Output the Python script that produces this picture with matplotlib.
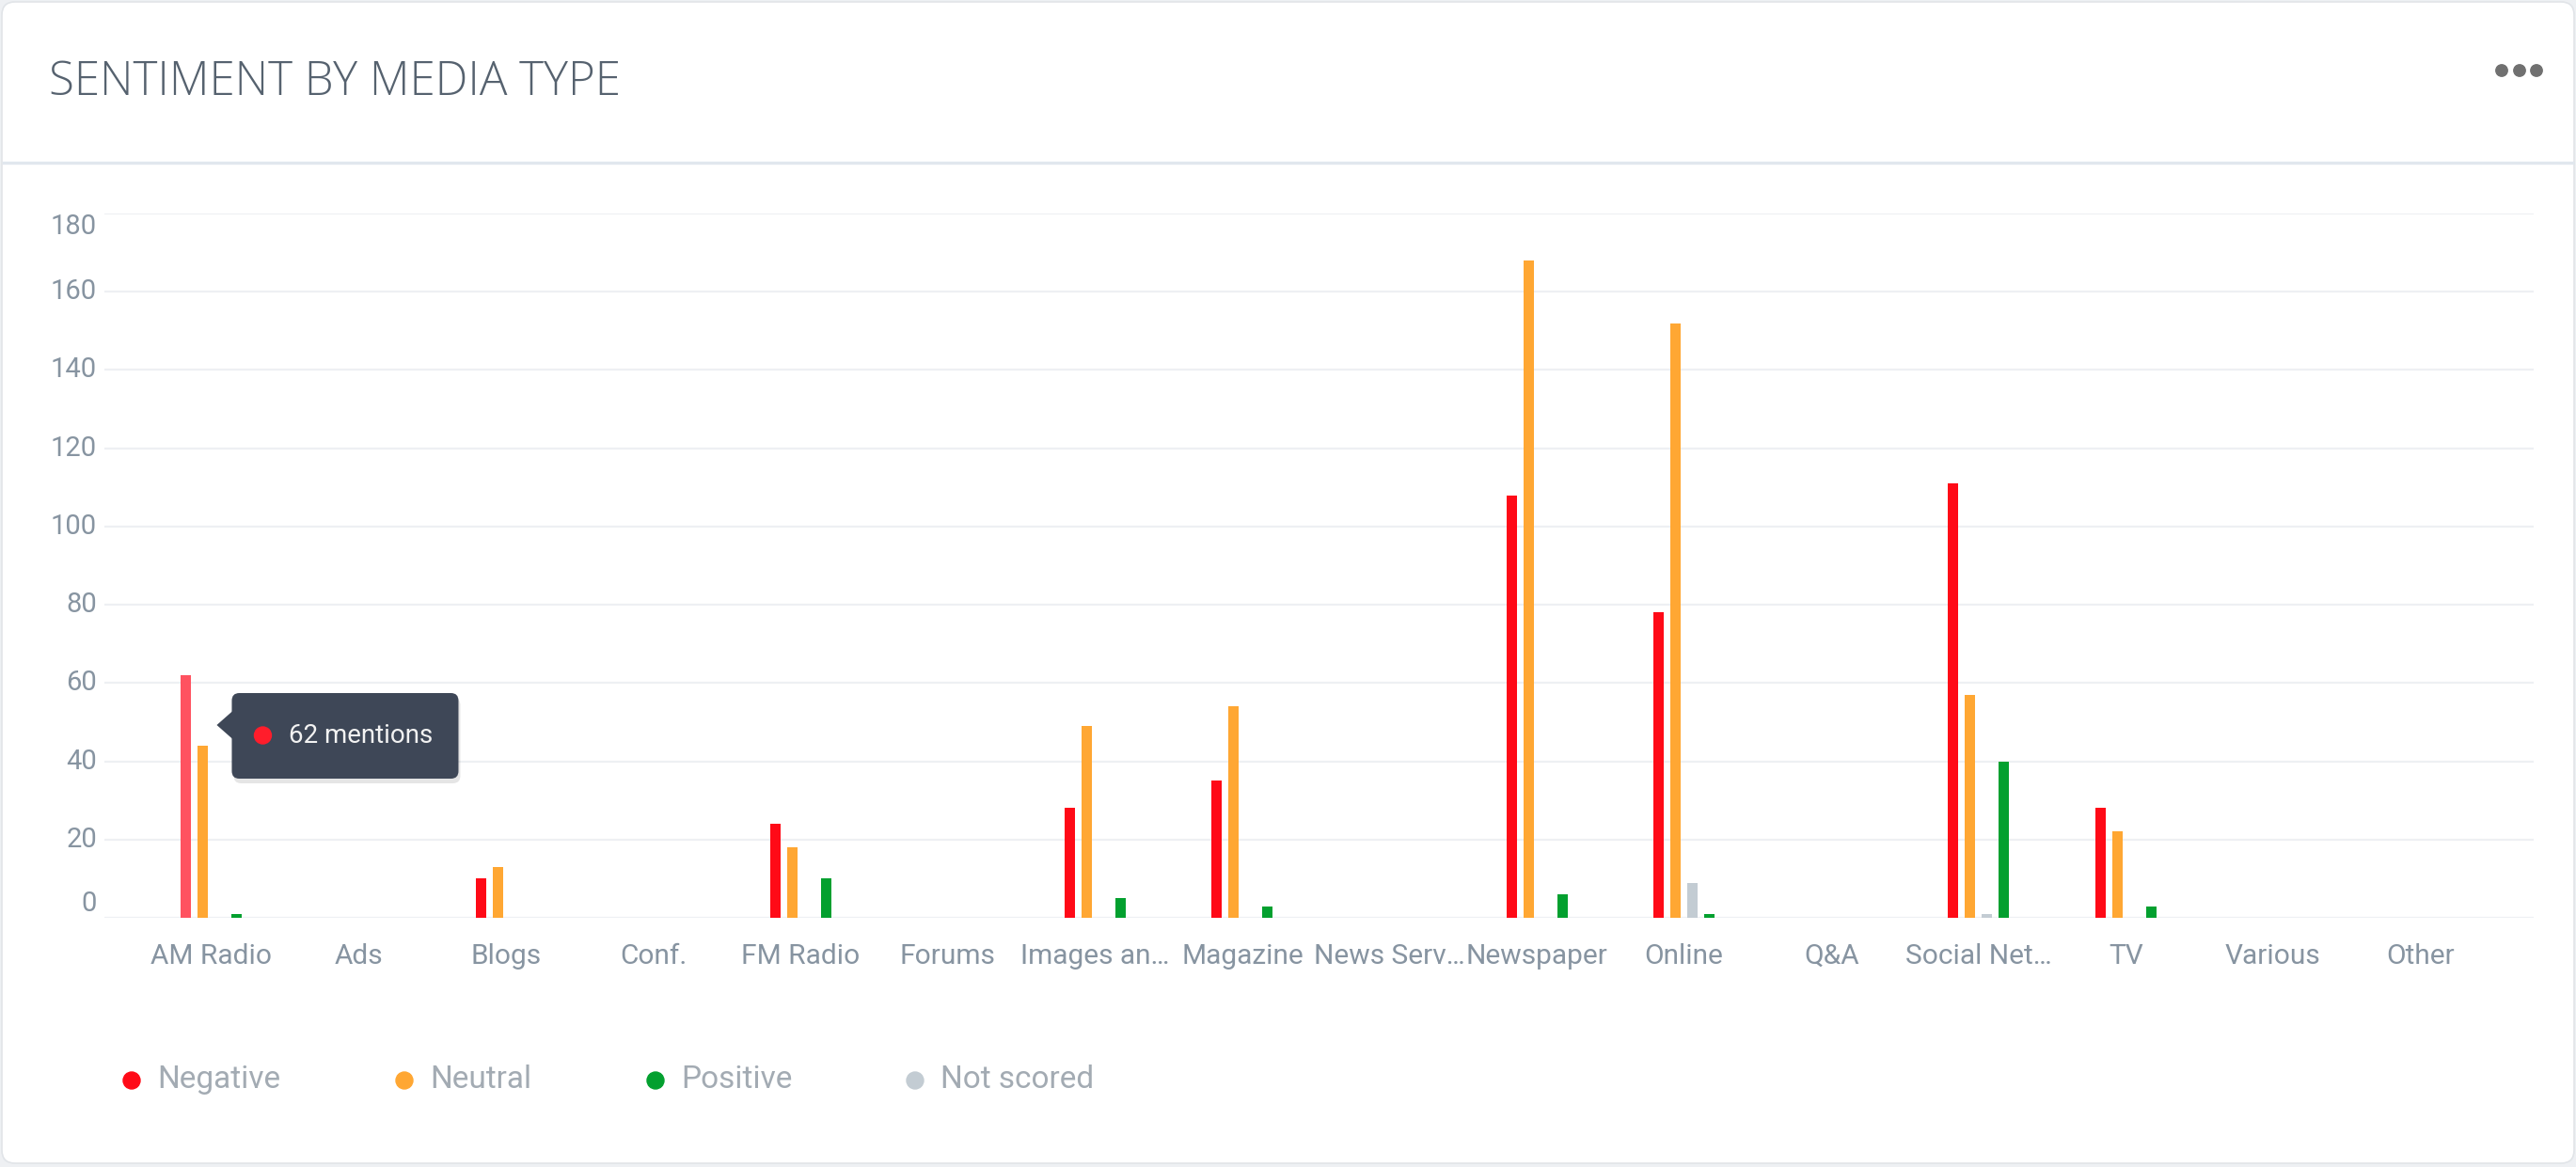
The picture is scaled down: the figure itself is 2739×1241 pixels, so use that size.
import numpy as np
import matplotlib
matplotlib.use("Agg")
import matplotlib.pyplot as plt
import matplotlib.transforms as mtransforms
from matplotlib.patches import FancyBboxPatch, Circle, Polygon

W, H = 2739, 1241
DPI = 100

categories = ["AM Radio", "Ads", "Blogs", "Conf.", "FM Radio", "Forums",
              "Images an\u2026", "Magazine", "News Serv\u2026", "Newspaper",
              "Online", "Q&A", "Social Net\u2026", "TV", "Various", "Other"]
negative   = [62, 0, 10, 0, 24, 0, 28, 35, 0, 108, 78, 0, 111, 28, 0, 0]
neutral    = [44, 0, 13, 0, 18, 0, 49, 54, 0, 168, 152, 0, 57, 22, 0, 0]
not_scored = [0, 0, 0, 0, 0, 0, 0, 0, 0, 0, 9, 0, 1, 0, 0, 0]
positive   = [1, 0, 0, 0, 10, 0, 5, 3, 0, 6, 1, 0, 40, 3, 0, 0]
y_ticks = [0, 20, 40, 60, 80, 100, 120, 140, 160, 180]

legend_names = ["Negative", "Neutral", "Positive", "Not scored"]
tooltip_text = "62 mentions"

RED, ORANGE, GREEN, GREY = "#ff0a17", "#ffa733", "#03a02f", "#c3ccd3"
RED_HOVER = "#ff5260"
LABEL_C = "#8794a1"

fig = plt.figure(figsize=(W / DPI, H / DPI), dpi=DPI)
fig.patch.set_facecolor("#eef0f3")

# background layer in pixel coords (y down)
bg = fig.add_axes([0, 0, 1, 1], zorder=0)
bg.set_xlim(0, W); bg.set_ylim(H, 0); bg.axis("off")
bg.add_patch(FancyBboxPatch((2, 2), W - 4, H - 6, boxstyle="round,pad=0,rounding_size=14",
                            fc="white", ec="#e1e4e8", lw=1.2))
bg.plot([2, W - 2], [173, 173], color="#e1e7ee", lw=2.4, solid_capstyle="butt")
bg.text(52, 88, "SENTIMENT BY MEDIA TYPE", fontsize=35.5, color="#56626f",
        family=["Open Sans", "DejaVu Sans"], weight="light", ha="left", va="center")
for cx in (2660, 2679, 2697):
    bg.add_patch(Circle((cx, 75), 6.2, color="#707070"))

# legend
leg_dots = [140, 430, 697, 973]
leg_cols = [RED, ORANGE, GREEN, GREY]
for x0, name, c in zip(leg_dots, legend_names, leg_cols):
    bg.add_patch(Circle((x0, 1149), 9, color=c))
    bg.text(x0 + 27, 1148, name, fontsize=24, color="#a3abb3", family="Roboto",
            ha="left", va="center")

# main chart
ax = fig.add_axes([111 / W, 1 - 976 / H, (2694 - 111) / W, (976 - 227) / H], zorder=2)
ax.patch.set_alpha(0)
x = np.arange(len(categories))
ax.set_xlim(-0.728, 15.77)
ax.set_ylim(0, 180)
for s in ax.spines.values():
    s.set_visible(False)
ax.set_yticks(y_ticks)
ax.set_xticks([])
ax.yaxis.grid(True, color="#eef0f3", lw=1.6)
ax.set_axisbelow(True)
ax.tick_params(length=0, labelleft=False)

bw = 0.0703
step = 0.115
neg_colors = [RED_HOVER] + [RED] * (len(categories) - 1)
series = [(negative, neg_colors), (neutral, ORANGE), (not_scored, GREY), (positive, GREEN)]
for k, (vals, col) in enumerate(series):
    ax.bar(x + (k - 1.5) * step, vals, width=bw, color=col, linewidth=0)

# y labels (end labels kept inside the plot, like the original)
ylab_tr = mtransforms.blended_transform_factory(ax.transAxes, ax.transData)
for v in y_ticks:
    dy = -14 if v == 180 else (15 if v == 0 else 0)
    tr = ylab_tr + mtransforms.ScaledTranslation(-8 / DPI, dy / DPI, fig.dpi_scale_trans)
    ax.text(0, v, str(v), transform=tr, ha="right", va="center", fontsize=21,
            color=LABEL_C, family="Roboto")

xlab_tr = mtransforms.blended_transform_factory(ax.transData, ax.transAxes)
for i, name in enumerate(categories):
    tr = xlab_tr + mtransforms.ScaledTranslation(0, -41 / DPI, fig.dpi_scale_trans)
    ax.text(i, 0, name, transform=tr, ha="center", va="center", fontsize=21.5,
            color=LABEL_C, family="Roboto")

# tooltip anchored on the hovered bar
ov = fig.add_axes([0, 0, 1, 1], zorder=5)
ov.set_xlim(0, W); ov.set_ylim(H, 0); ov.axis("off")
bx, by = ax.transData.transform((0 - 1.5 * step + bw / 2, negative[0]))
by = H - by
tip_x, tip_y = bx + 27, by + 53
box_x0, box_y0, box_w, box_h = tip_x + 16, tip_y - 34, 241, 91
ov.add_patch(FancyBboxPatch((box_x0 + 2, box_y0 + 5), box_w, box_h,
                            boxstyle="round,pad=0,rounding_size=8",
                            fc="#000000", ec="none", alpha=0.10))
ov.add_patch(FancyBboxPatch((box_x0, box_y0), box_w, box_h,
                            boxstyle="round,pad=0,rounding_size=8",
                            fc="#3e4757", ec="none"))
ov.add_patch(Polygon([(tip_x, tip_y), (box_x0 + 1, tip_y - 15), (box_x0 + 1, tip_y + 15)],
                     closed=True, fc="#3e4757", ec="none"))
ov.add_patch(Circle((box_x0 + 33, tip_y + 11), 9, color="#ff1d2b"))
ov.text(box_x0 + 61, tip_y + 11, tooltip_text, fontsize=20, color="#f2f2f2",
        family="Roboto", ha="left", va="center")

fig.savefig("out.png", dpi=DPI, facecolor=fig.get_facecolor())
